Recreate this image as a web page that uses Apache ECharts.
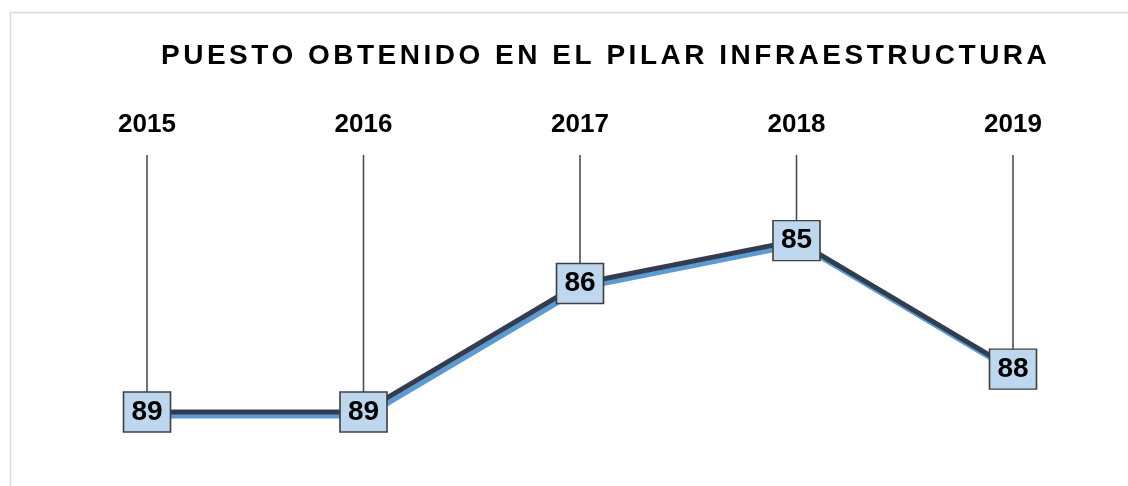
<!DOCTYPE html>
<html><head><meta charset="utf-8">
<script src="https://cdn.jsdelivr.net/npm/echarts@6/dist/echarts.min.js"></script>
<style>html,body{margin:0;padding:0;background:#fff}#c{width:1128px;height:486px}</style>
</head><body><div id="c"></div>
<script>
const titleText = 'PUESTO OBTENIDO EN EL PILAR INFRAESTRUCTURA';
const years = ['2015', '2016', '2017', '2018', '2019'];
const ranks = [89, 89, 86, 85, 88];

const FONT = '"Liberation Sans", Arial, sans-serif';
const TITLE_SIZE = 28;
const TITLE_WIDTH = 886;
const mctx = document.createElement('canvas').getContext('2d');
mctx.font = 'bold ' + TITLE_SIZE + 'px ' + FONT;
const natural = mctx.measureText(titleText).width;
const spacing = (TITLE_WIDTH - natural) / (titleText.length - 1);
const origFill = CanvasRenderingContext2D.prototype.fillText;
CanvasRenderingContext2D.prototype.fillText = function (t) {
  if (t === titleText && 'letterSpacing' in this) {
    const prev = this.letterSpacing;
    this.letterSpacing = spacing.toFixed(2) + 'px';
    const r = origFill.apply(this, arguments);
    this.letterSpacing = prev;
    return r;
  }
  return origFill.apply(this, arguments);
};

const chart = echarts.init(document.getElementById('c'), null, { renderer: 'canvas' });
chart.setOption({
  animation: false,
  backgroundColor: '#ffffff',
  title: {
    text: titleText, left: 161, top: 42, padding: 0,
    textStyle: { fontFamily: FONT, fontSize: TITLE_SIZE, fontWeight: 'bold', color: '#000' }
  },
  graphic: [{
    type: 'rect', left: 8, top: 10, silent: true, z: -10,
    shape: { width: 1300, height: 700 },
    style: { fill: 'none', stroke: '#d9d9d9', lineWidth: 1.5 }
  }],
  grid: { left: 38.75, right: 6.75, top: 155, bottom: 31.2 },
  xAxis: {
    type: 'category', data: years, position: 'top', boundaryGap: true,
    axisLine: { show: false }, axisTick: { show: false }, splitLine: { show: false },
    axisLabel: { fontFamily: FONT, fontSize: 26, fontWeight: 'bold', color: '#000', margin: 17 }
  },
  yAxis: { type: 'value', inverse: true, min: 83, max: 90, show: false },
  series: [
    {
      type: 'custom', z: 1, silent: true,
      data: ranks.map((v, i) => [i, v]),
      renderItem: function (params, api) {
        const top = api.coord([api.value(0), 83]);
        const p = api.coord([api.value(0), api.value(1)]);
        return {
          type: 'line',
          shape: { x1: top[0], y1: top[1], x2: p[0], y2: p[1] },
          style: { stroke: '#3a4556', lineWidth: 1.5 }
        };
      }
    },
    {
      type: 'line', z: 2, data: ranks,
      symbol: 'rect', symbolSize: [47, 40],
      itemStyle: { color: '#bdd7ee', borderColor: '#404040', borderWidth: 1.5 },
      lineStyle: { color: '#323e4f', width: 5, shadowColor: '#5b9bd5', shadowOffsetX: 3, shadowOffsetY: 4, shadowBlur: 0 },
      label: { show: true, position: 'inside', fontFamily: FONT, fontSize: 28, fontWeight: 'bold', color: '#000' }
    }
  ]
});
</script>
</body></html>
